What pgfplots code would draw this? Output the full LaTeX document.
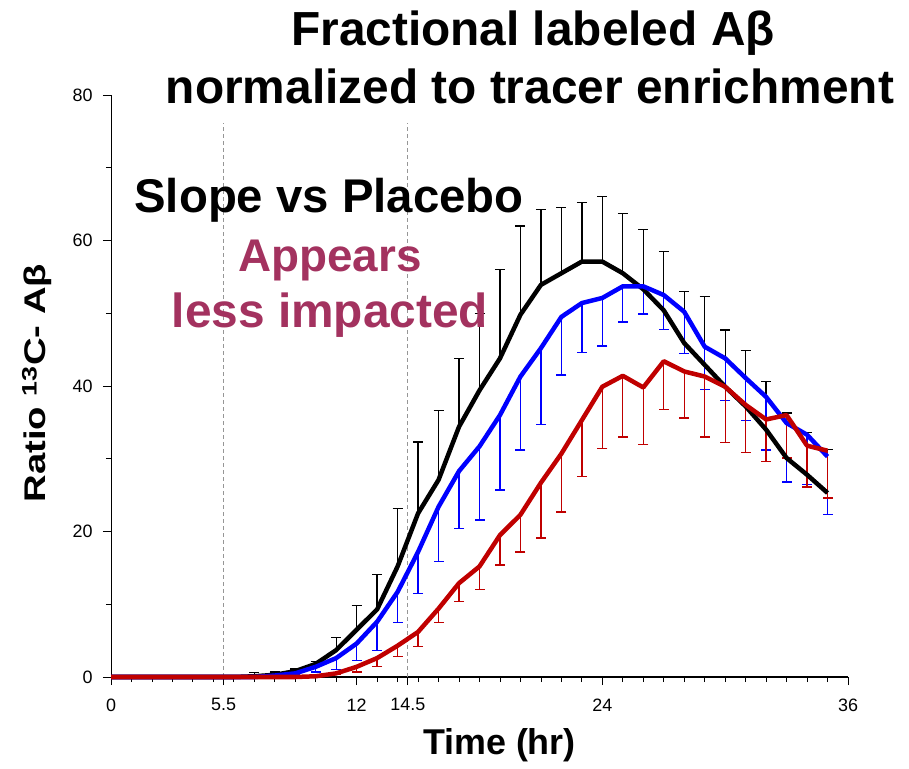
\documentclass[border=0pt]{standalone}
\usepackage{pgfplots}
\pgfplotsset{compat=1.18}
\usepackage{pgfplotstable}
\usepackage{fontspec}
\setmainfont{Liberation Sans}
\definecolor{maroon}{RGB}{163,50,95}
\definecolor{myred}{RGB}{192,0,0}
\definecolor{myblue}{RGB}{0,0,255}
\definecolor{dashgray}{RGB}{150,150,150}

\pgfplotstableread{
t B Be U Ue R Re
0 0 0 0 0 0 0
1 0 0 0 0 0 0
2 0 0 0 0 0 0
3 0 0 0 0 0 0
4 0 0 0 0 0 0
5 0 0 0 0 0 0
6 0 0 0 0 0 0
7 0.1 0.5 0 0 0 0
8 0.3 0.4 0.2 0 0 0
9 0.8 0.3 0.5 0.2 0 0
10 1.8 0.3 1.4 0.7 0.1 0
11 3.7 1.7 2.6 1.6 0.5 0.2
12 6.5 3.3 4.6 2.3 1.4 0.7
13 9.3 4.8 7.6 4.0 2.6 1.2
14 15.2 8.0 11.7 4.2 4.3 1.5
15 22.5 9.8 17.2 5.7 6.2 2.0
16 27.1 9.5 23.4 7.5 9.4 1.9
17 34.4 9.4 28.3 7.9 12.9 2.5
18 39.4 10.6 31.7 10.1 15.2 3.2
19 43.8 12.2 36.0 10.3 19.5 4.1
20 49.8 12.2 41.3 10.1 22.3 5.1
21 53.9 10.4 45.2 10.5 26.7 7.6
22 55.5 9.0 49.5 8.0 30.7 8.0
23 57.1 8.1 51.4 6.8 35.3 7.7
24 57.1 8.9 52.1 6.6 39.9 8.5
25 55.5 8.2 53.7 4.9 41.4 8.4
26 53.3 8.2 53.7 3.8 39.8 7.8
27 50.4 8.1 52.5 4.7 43.4 6.6
28 45.9 7.1 50.2 5.7 42.0 6.4
29 42.9 9.4 45.4 5.9 41.3 8.3
30 39.9 7.8 43.8 5.8 39.9 7.7
31 37.2 7.7 41.1 5.8 37.4 6.5
32 34.0 6.6 38.5 7.3 35.4 5.8
33 30.1 6.2 34.9 8.1 36.0 5.9
34 27.8 5.8 33.3 6.8 31.8 5.7
35 25.3 6.0 30.3 8.0 31.1 6.5
}\data

\begin{document}
\begin{tikzpicture}
\useasboundingbox (0,0) rectangle (909bp,769bp);
\begin{axis}[
  at={(111bp,92bp)}, anchor=south west,
  width=737bp, height=582bp, scale only axis,
  xmin=0, xmax=36, ymin=0, ymax=80,
  axis x line=bottom, axis y line=left,
  axis line style={-},
  x axis line style={line width=2bp},
  y axis line style={line width=1bp},
  xtick={0,5.5,12,14.5,24,36},
  xticklabels={0,5.5,12,14.5,24,36},
  minor xtick={1,2,...,35},
  ytick={0,20,40,60,80},
  minor ytick={10,30,50,70},
  tick align=outside,
  major tick length=8bp, minor tick length=5bp,
  every tick/.style={black, line width=0.8bp},
  tick label style={font=\fontsize{18}{18}\selectfont},
  xticklabel style={yshift=-10bp},
  yticklabel style={xshift=-7bp},
  /pgf/number format/assume math mode=true,
  clip=false,
  xlabel={\fontsize{36}{36}\selectfont\bfseries Time (hr)},
  xlabel style={at={(axis description cs:0.527,-0.117)}, anchor=center},
  ylabel={\scalebox{1.28}[1.0]{\fontsize{30}{30}\selectfont\bfseries Ratio \textsuperscript{13}C- Aβ}},
  ylabel style={at={(axis description cs:-0.1005,0.505)}, anchor=center, rotate=0},
]
% infusion window
\addplot[dashgray, line width=0.8bp, dash pattern=on 4bp off 3bp, forget plot] coordinates {(5.5,0) (5.5,76.2)};
\addplot[dashgray, line width=0.8bp, dash pattern=on 4bp off 3bp, forget plot] coordinates {(14.5,0) (14.5,76.2)};
% error bars
\addplot[draw=none, forget plot, error bars/.cd, y dir=plus, y explicit,
  error bar style={draw=black, line width=1.3bp},
  error mark options={rotate=90, mark size=5bp, draw=black, line width=1.3bp}]
  table[x=t, y=B, y error=Be, restrict x to domain=7:35] {\data};
\addplot[draw=none, forget plot, error bars/.cd, y dir=minus, y explicit,
  error bar style={draw=myblue, line width=1.3bp},
  error mark options={rotate=90, mark size=5bp, draw=myblue, line width=1.3bp}]
  table[x=t, y=U, y error=Ue, restrict x to domain=9:35] {\data};
\addplot[draw=none, forget plot, error bars/.cd, y dir=minus, y explicit,
  error bar style={draw=myred, line width=1.3bp},
  error mark options={rotate=90, mark size=5bp, draw=myred, line width=1.3bp}]
  table[x=t, y=R, y error=Re, restrict x to domain=11:35] {\data};
% lines
\addplot[black, line width=4.5bp, no markers, line join=round] table[x=t, y=B] {\data};
\addplot[myblue, line width=4.5bp, no markers, line join=round] table[x=t, y=U] {\data};
\addplot[myred, line width=4.5bp, no markers, line join=round] table[x=t, y=R] {\data};
\end{axis}
\node[anchor=base, font=\fontsize{48}{48}\selectfont\bfseries] at (533bp,723bp) {Fractional labeled Aβ};
\node[anchor=base, font=\fontsize{48}{48}\selectfont\bfseries] at (530bp,665bp) {normalized to tracer enrichment};
\node[anchor=base, font=\fontsize{47.5}{47.5}\selectfont\bfseries] at (329bp,556bp) {Slope vs Placebo};
\node[anchor=base, font=\fontsize{46}{46}\selectfont\bfseries, text=maroon] at (330bp,497bp) {Appears};
\node[anchor=base, font=\fontsize{48}{48}\selectfont\bfseries, text=maroon] at (330bp,441bp) {less impacted};
\end{tikzpicture}
\end{document}
